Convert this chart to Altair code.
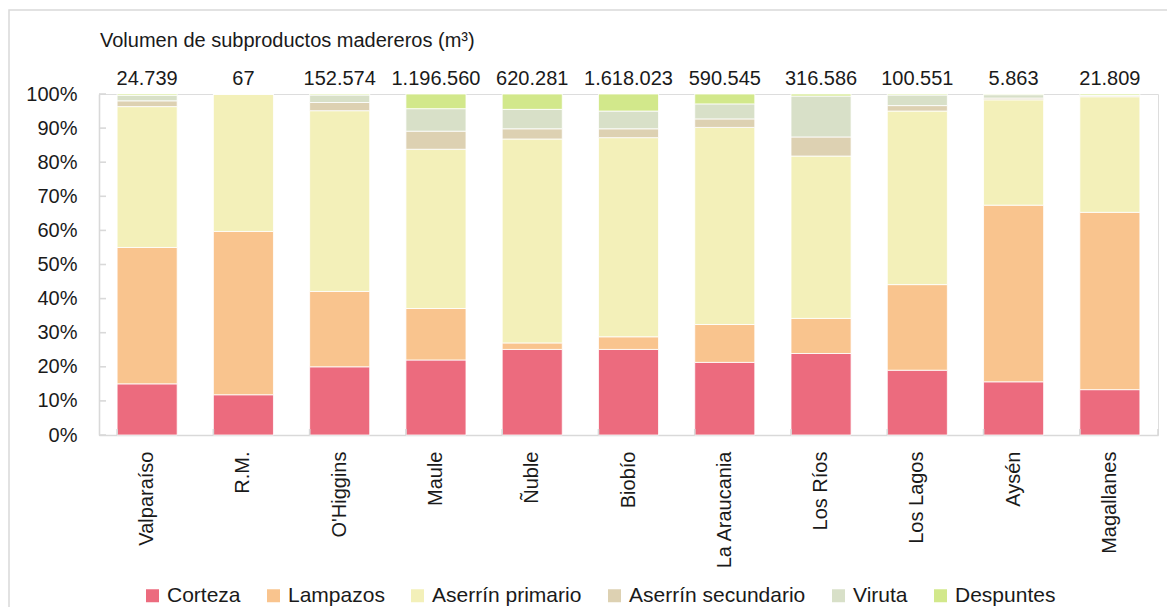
import altair as alt
import pandas as pd

regions = ["Valparaíso", "R.M.", "O'Higgins", "Maule", "Ñuble", "Biobío",
           "La Araucania", "Los Ríos", "Los Lagos", "Aysén", "Magallanes"]
totals = [24739, 67, 152574, 1196560, 620281, 1618023, 590545, 316586, 100551, 5863, 21809]

series = ["Corteza", "Lampazos", "Aserrín primario", "Aserrín secundario", "Viruta", "Despuntes"]
colors = ["#EC6B7E", "#F9C48E", "#F3F0B9", "#DDD1B2", "#D8E0C8", "#D2E88B"]

corteza = [15.0, 11.8, 20.0, 22.0, 25.1, 25.1, 21.3, 23.9, 19.0, 15.6, 13.3]
lampazos = [40.0, 47.9, 22.1, 15.1, 1.9, 3.7, 11.1, 10.3, 25.1, 51.8, 52.0]
aserrin_primario = [41.3, 40.3, 53.0, 46.7, 59.8, 58.4, 57.8, 47.6, 50.9, 30.9, 33.9]
aserrin_secundario = [1.7, 0.0, 2.4, 5.3, 3.0, 2.6, 2.5, 5.6, 1.6, 0.5, 0.3]
viruta = [1.6, 0.0, 2.2, 6.6, 5.7, 5.2, 4.4, 12.0, 3.1, 1.0, 0.1]
despuntes = [0.4, 0.0, 0.3, 4.3, 4.5, 5.0, 2.9, 0.6, 0.3, 0.2, 0.4]

y_ticks = [0, 0.1, 0.2, 0.3, 0.4, 0.5, 0.6, 0.7, 0.8, 0.9, 1.0]

values = [corteza, lampazos, aserrin_primario, aserrin_secundario, viruta, despuntes]
rows = []
for si, (s, vals) in enumerate(zip(series, values)):
    for r, v in zip(regions, vals):
        rows.append({"region": r, "serie": s, "pct": v, "idx": si})
df = pd.DataFrame(rows)
tot_df = pd.DataFrame({"region": regions, "total": totals})
tick_df = pd.DataFrame({"t": y_ticks})

W, H = 1059, 341
FONT = "Liberation Sans"
GRID = "#d9d9d9"
TXT = "#1a1a1a"

xscale = alt.Scale(paddingInner=0.376, paddingOuter=0.188)
yscale = alt.Scale(domain=[0, 1], nice=False)

xaxis = alt.Axis(title=None, labelAngle=-90, labelPadding=16, ticks=False, tickSize=0,
                 domainColor=GRID, domainWidth=1.6, labelFontSize=20,
                 labelFont=FONT, labelColor=TXT)
yaxis = alt.Axis(title=None, format=".0%", values=y_ticks, ticks=False, tickSize=0,
                 labelPadding=22, domainColor=GRID, domainWidth=1.6, grid=False,
                 labelFontSize=20, labelFont=FONT, labelColor=TXT)

bars = alt.Chart(df).mark_bar(stroke="white", strokeWidth=0.8).encode(
    x=alt.X("region:N", sort=regions, scale=xscale, axis=xaxis),
    y=alt.Y("pct:Q", stack="normalize", scale=yscale, axis=yaxis),
    color=alt.Color("serie:N", sort=series,
                    scale=alt.Scale(domain=series, range=colors),
                    legend=alt.Legend(title=None, orient="none", direction="horizontal",
                                      legendX=43, legendY=491, symbolType="square",
                                      symbolSize=169, symbolStrokeWidth=0, labelFontSize=21,
                                      labelFont=FONT, labelColor=TXT, labelOffset=4,
                                      labelLimit=400, columnPadding=22)),
    order=alt.Order("idx:Q", sort="ascending"),
)

xticks = alt.Chart(tot_df).mark_rule(color=GRID, strokeWidth=1.6).encode(
    x=alt.X("region:N", sort=regions, scale=xscale, bandPosition=0, axis=xaxis),
    y=alt.value(H),
    y2=alt.value(H - 6),
)
xtick_end = alt.Chart(alt.Data(values=[{"a": 1}])).mark_rule(color=GRID, strokeWidth=1.6).encode(
    x=alt.value(W), y=alt.value(H), y2=alt.value(H - 6)
)
yticks = alt.Chart(tick_df).mark_rule(color=GRID, strokeWidth=1.6).encode(
    y=alt.Y("t:Q", scale=yscale, axis=yaxis),
    x=alt.value(0),
    x2=alt.value(7),
)

labels = alt.Chart(tot_df).mark_text(fontSize=20, font=FONT, color=TXT, baseline="alphabetic").encode(
    x=alt.X("region:N", sort=regions, scale=xscale, axis=xaxis),
    y=alt.value(-9),
    text=alt.Text("total:Q", format=","),
)

title = alt.Chart(alt.Data(values=[{"a": 1}])).mark_text(
    fontSize=20, font=FONT, color=TXT, align="left", baseline="alphabetic"
).encode(x=alt.value(1), y=alt.value(-47), text=alt.value("Volumen de subproductos madereros (m³)"))

frame = alt.Chart(alt.Data(values=[{"a": 1}])).mark_rect(
    fill="transparent", stroke=GRID, strokeWidth=1.5
).encode(x=alt.value(-90), x2=alt.value(W + 60), y=alt.value(-84), y2=alt.value(H + 250))

chart = alt.layer(bars, xticks, xtick_end, yticks, labels, title, frame).properties(
    width=W, height=H,
    autosize=alt.AutoSizeParams(type="none"),
    padding={"left": 91, "top": 86, "right": 9, "bottom": 172},
).configure_view(stroke=None).configure(
    locale={"number": {"decimal": ",", "thousands": ".", "grouping": [3], "currency": ["$", ""]}},
    background="white",
)

chart.save("out.html", embed_options={"renderer": "svg", "actions": False})
